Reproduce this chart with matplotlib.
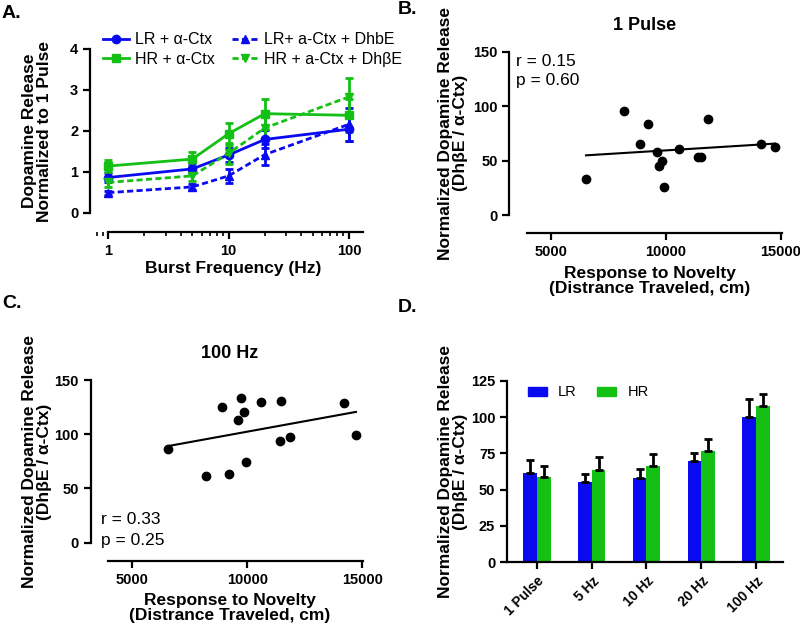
import matplotlib
matplotlib.use("Agg")

import matplotlib.pyplot as plt
import numpy as np
from matplotlib.lines import Line2D
from matplotlib.patches import Patch

plt.rcParams["font.family"] = ["Liberation Sans", "DejaVu Sans"]

BLUE = "#0A0AF0"
GREEN = "#14C014"
DASH = (0, (2.2, 1.2))

# ── Panel A: burst frequency response ──
freq_hz = [1, 5, 10, 20, 100]
lr_ctx = [0.86, 1.07, 1.41, 1.79, 2.04]
lr_ctx_err = [0.12, 0.10, 0.17, 0.22, 0.30]
hr_ctx = [1.14, 1.31, 1.93, 2.42, 2.38]
hr_ctx_err = [0.15, 0.17, 0.27, 0.37, 0.40]
lr_dhbe = [0.49, 0.63, 0.90, 1.42, 2.16]
lr_dhbe_err = [0.05, 0.08, 0.17, 0.26, 0.40]
hr_dhbe = [0.74, 0.90, 1.45, 2.07, 2.83]
hr_dhbe_err = [0.10, 0.12, 0.25, 0.30, 0.45]

# ── Panel B: 1 pulse vs. novelty response ──
novelty_b = [6536, 8188, 8884, 9217, 9609, 9710, 9855, 9942,
             10594, 11420, 11522, 11855, 14159, 14754]
release_b = [32.8, 95.2, 65.2, 83.6, 58.2, 45.0, 49.9, 26.0,
             60.3, 53.0, 53.6, 88.5, 64.9, 62.8]

# ── Panel C: 100 Hz vs. novelty response ──
novelty_c = [6546, 8208, 8902, 9220, 9595, 9725, 9855, 9928,
             10593, 11416, 11489, 11850, 14191, 14725]
release_c = [86.6, 61.2, 124.9, 63.4, 113.0, 133.2, 120.6, 74.7,
             130.1, 93.4, 130.4, 97.0, 128.6, 99.2]

# ── Panel D: LR vs HR by stimulation ──
stim_labels = ["1 Pulse", "5 Hz", "10 Hz", "20 Hz", "100 Hz"]
lr_norm = [61.7, 55.0, 58.3, 70.0, 100.2]
lr_norm_err = [8.7, 5.6, 5.9, 5.5, 12.0]
hr_norm = [58.7, 63.5, 66.3, 76.8, 107.3]
hr_norm_err = [7.6, 8.7, 8.0, 7.8, 8.7]

W, H = 800, 628
fig = plt.figure(figsize=(W / 100, H / 100), dpi=100)


def rect(left, top, right, bottom):
    """Pixel box -> figure fraction rect."""
    return [left / W, 1 - bottom / H, (right - left) / W, (bottom - top) / H]


def fx(px):
    return px / W


def fy(py):
    return 1 - py / H


def style_axes(ax):
    for s in ("top", "right"):
        ax.spines[s].set_visible(False)
    for s in ("left", "bottom"):
        ax.spines[s].set_linewidth(1.6)
    ax.tick_params(width=1.6, length=5, labelsize=10.5)
    for lbl in ax.get_xticklabels() + ax.get_yticklabels():
        lbl.set_fontweight("bold")


LABEL_KW = dict(fontsize=12.5, fontweight="bold", ha="center", va="center",
                multialignment="center", linespacing=1.05)
YLABEL_ND = "Normalized Dopamine Release\n(Dh\u03b2E / \u03b1-Ctx)"
XLABEL_NOV = "Response to Novelty\n(Distrance Traveled, cm)"

# ---------------- Panel A ----------------
axA = fig.add_axes(rect(90, 49, 363, 231.7))
series = [
    (lr_ctx, lr_ctx_err, BLUE, "-", "o", "LR + \u03b1-Ctx"),
    (hr_ctx, hr_ctx_err, GREEN, "-", "s", "HR + \u03b1-Ctx"),
    (lr_dhbe, lr_dhbe_err, BLUE, DASH, "^", "LR+ a-Ctx + DhbE"),
    (hr_dhbe, hr_dhbe_err, GREEN, DASH, "v", "HR + a-Ctx + Dh\u03b2E"),
]
handles = []
for vals, err, col, ls, mk, lab in series:
    axA.errorbar(freq_hz, vals, yerr=err, color=col, linestyle=ls, marker=mk,
                 markersize=6, linewidth=2, elinewidth=2, capsize=3, capthick=2)
    handles.append(Line2D([], [], color=col, linestyle=ls, marker=mk,
                          markersize=6, linewidth=2, label=lab))
axA.set_xscale("log")
axA.set_xlim(0.705, 131)
axA.set_ylim(-0.464, 4)
axA.set_yticks([0, 1, 2, 3, 4])
axA.set_xticks([1, 10, 100])
axA.set_xticklabels(["1", "10", "100"])
axA.spines["left"].set_bounds(0, 4)
axA.spines["bottom"].set_bounds(1, 131)
style_axes(axA)
axA.tick_params(axis="x", which="minor", width=1.2, length=3)
fig.legend(handles=handles, ncol=2, loc="center left",
           bbox_to_anchor=(fx(103), fy(49.5)), frameon=False, fontsize=11.5,
           borderpad=0, borderaxespad=0, handlelength=1.6,
           columnspacing=1.1, labelspacing=0.3, handletextpad=0.4)
fig.text(fx(233), fy(268), "Burst Frequency (Hz)", **LABEL_KW)
fig.text(fx(37), fy(131), "Dopamine Release\nNormalized to 1 Pulse",
         rotation=90, **LABEL_KW)


def scatter_panel(ax, xs, ys):
    ax.plot(xs, ys, "o", color="black", markersize=6)
    slope, icpt = np.polyfit(xs, ys, 1)
    xf = np.array([min(xs), max(xs)])
    ax.plot(xf, slope * xf + icpt, color="black", linewidth=1.5)
    ax.set_xlim(3200, 15043)
    ax.set_ylim(-16.8, 150)
    ax.set_xticks([5000, 10000, 15000])
    ax.set_yticks([0, 50, 100, 150])
    ax.spines["left"].set_bounds(0, 150)
    ax.spines["bottom"].set_bounds(3957, 15043)
    style_axes(ax)


STAT_KW = dict(fontsize=12.5, ha="left", va="center")

# ---------------- Panel B ----------------
axB = fig.add_axes(rect(509.3, 51.7, 781.7, 233.3))
scatter_panel(axB, novelty_b, release_b)
fig.text(fx(516.5), fy(61), "r = 0.15", **STAT_KW)
fig.text(fx(516.5), fy(80), "p = 0.60", **STAT_KW)
fig.text(fx(645), fy(25), "1 Pulse", fontsize=13, fontweight="bold",
         ha="center", va="center")
fig.text(fx(650), fy(281), XLABEL_NOV, **LABEL_KW)
fig.text(fx(453), fy(133), YLABEL_ND, rotation=90, **LABEL_KW)

# ---------------- Panel C ----------------
axC = fig.add_axes(rect(90.7, 380, 363.3, 560.7))
scatter_panel(axC, novelty_c, release_c)
fig.text(fx(101.5), fy(520), "r = 0.33", **STAT_KW)
fig.text(fx(101.5), fy(540), "p = 0.25", **STAT_KW)
fig.text(fx(230), fy(353), "100 Hz", fontsize=13, fontweight="bold",
         ha="center", va="center")
fig.text(fx(230), fy(608), XLABEL_NOV, **LABEL_KW)
fig.text(fx(37), fy(462), YLABEL_ND, rotation=90, **LABEL_KW)

# ---------------- Panel D ----------------
axD = fig.add_axes(rect(507, 380.7, 782.7, 562.3))
x = np.arange(len(stim_labels))
bw = 0.25
axD.bar(x - bw / 2, lr_norm, bw, color=BLUE)
axD.bar(x + bw / 2, hr_norm, bw, color=GREEN)
axD.errorbar(x - bw / 2, lr_norm, yerr=[np.zeros(len(x)), lr_norm_err],
             fmt="none", ecolor="black", elinewidth=2, capsize=3, capthick=2)
axD.errorbar(x + bw / 2, hr_norm, yerr=[np.zeros(len(x)), hr_norm_err],
             fmt="none", ecolor="black", elinewidth=2, capsize=3, capthick=2)
axD.set_xlim(-0.55, 4.49)
axD.set_ylim(0, 125)
axD.set_yticks([0, 25, 50, 75, 100, 125])
axD.set_xticks(x)
axD.set_xticklabels(stim_labels, rotation=45, ha="right", rotation_mode="anchor")
style_axes(axD)
axD.tick_params(axis="x", labelsize=10)
fig.legend(handles=[Patch(color=BLUE, label="LR"), Patch(color=GREEN, label="HR")],
           ncol=2, loc="center left", bbox_to_anchor=(fx(527.7), fy(392.5)),
           frameon=False, fontsize=10.5, borderpad=0, borderaxespad=0,
           handlelength=1.3, handleheight=0.62, handletextpad=0.75,
           columnspacing=1.45)
fig.text(fx(453), fy(472), YLABEL_ND, rotation=90, **LABEL_KW)

# panel letters
for lbl, px, py in [("A.", 2, 13), ("B.", 398, 9), ("C.", 2, 303), ("D.", 398, 308)]:
    fig.text(fx(px), fy(py), lbl, fontsize=14, fontweight="bold",
             ha="left", va="center")

fig.savefig("out.png", dpi=100)
